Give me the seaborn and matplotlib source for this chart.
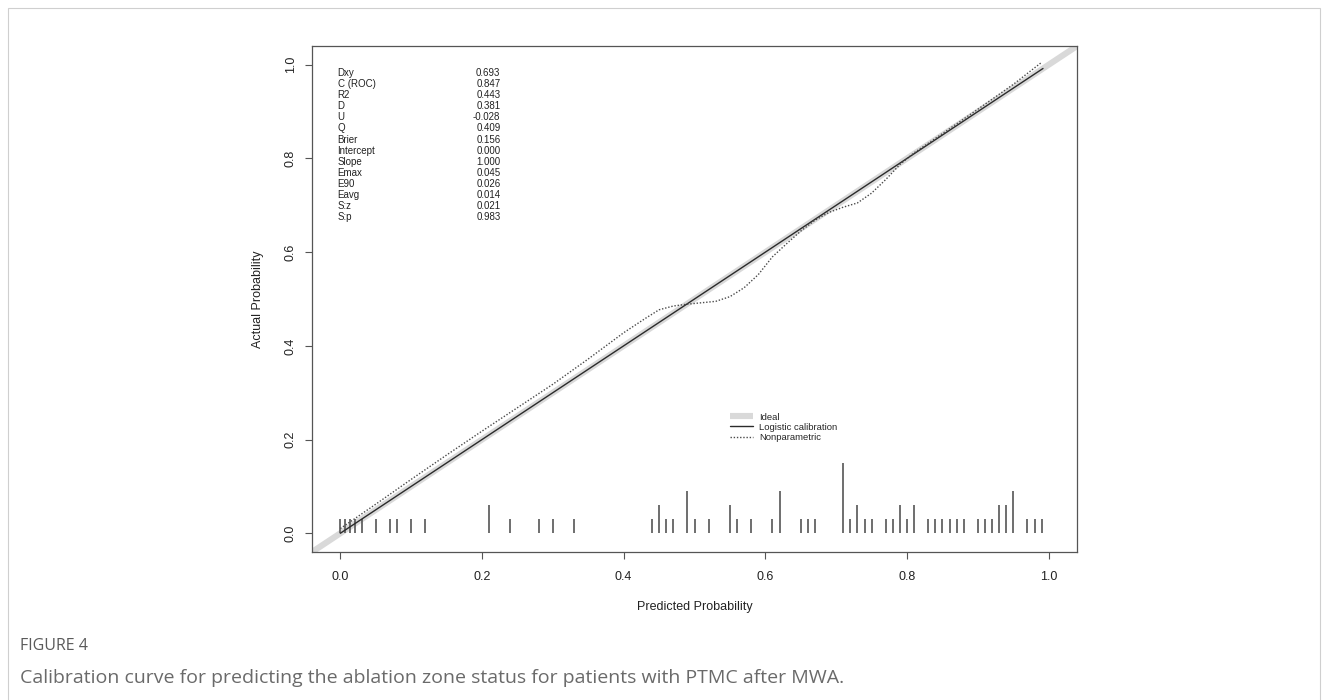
import numpy as np
import pandas as pd
import seaborn as sns
import matplotlib.pyplot as plt
from matplotlib.lines import Line2D
from matplotlib.patches import Rectangle

# ---- calibration statistics -------------------------------------------------
stat_names = ["Dxy", "C (ROC)", "R2", "D", "U", "Q", "Brier", "Intercept",
              "Slope", "Emax", "E90", "Eavg", "S:z", "S:p"]
stat_values = ["0.693", "0.847", "0.443", "0.381", "-0.028", "0.409", "0.156",
               "0.000", "1.000", "0.045", "0.026", "0.014", "0.021", "0.983"]

# ---- logistic calibration line (intercept 0, slope 1) over predicted range ---
logistic_pred = [0.0, 0.992]
logistic_obs = [0.0, 0.992]

# ---- nonparametric (loess) calibration curve --------------------------------
np_pred = [0.00, 0.05, 0.10, 0.15, 0.20, 0.25, 0.30, 0.35, 0.40, 0.43, 0.45,
           0.47, 0.49, 0.51, 0.53, 0.55, 0.57, 0.59, 0.61, 0.63, 0.65, 0.67,
           0.69, 0.71, 0.73, 0.75, 0.77, 0.79, 0.81, 0.85, 0.90, 0.95, 0.99]
np_obs = [0.010, 0.062, 0.115, 0.167, 0.218, 0.268, 0.318, 0.372, 0.428,
          0.458, 0.477, 0.485, 0.489, 0.492, 0.495, 0.505, 0.524, 0.552,
          0.590, 0.618, 0.645, 0.668, 0.685, 0.696, 0.705, 0.726, 0.755,
          0.787, 0.812, 0.853, 0.905, 0.958, 1.005]

# ---- distribution of predicted risks (spike histogram) ----------------------
rug_pred = [0.00, 0.007, 0.014, 0.02, 0.03, 0.05, 0.07, 0.08, 0.10, 0.12,
            0.21, 0.24, 0.28, 0.30, 0.33, 0.44, 0.45, 0.46, 0.47, 0.49, 0.50,
            0.52, 0.55, 0.56, 0.58, 0.61, 0.62, 0.65, 0.66, 0.67, 0.71, 0.72,
            0.73, 0.74, 0.75, 0.77, 0.78, 0.79, 0.80, 0.81, 0.83, 0.84, 0.85,
            0.86, 0.87, 0.88, 0.90, 0.91, 0.92, 0.93, 0.94, 0.95, 0.97, 0.98,
            0.99]
rug_count = [1, 1, 1, 1, 1, 1, 1, 1, 1, 1,
             2, 1, 1, 1, 1, 1, 2, 1, 1, 3, 1,
             1, 2, 1, 1, 1, 3, 1, 1, 1, 5, 1,
             2, 1, 1, 1, 1, 2, 1, 2, 1, 1, 1,
             1, 1, 1, 1, 1, 1, 2, 2, 3, 1, 1,
             1]
spike_unit = 0.03

legend_labels = ["Ideal", "Logistic calibration", "Nonparametric"]
x_ticks = [0.0, 0.2, 0.4, 0.6, 0.8, 1.0]
y_ticks = [0.0, 0.2, 0.4, 0.6, 0.8, 1.0]

# ---- styling ----------------------------------------------------------------
sns.set_style("ticks")
plt.rcParams["font.family"] = ["Liberation Sans", "DejaVu Sans"]
axis_grey = "#555555"

fig = plt.figure(figsize=(13.28, 7.0), dpi=100)
ax = fig.add_axes([312 / 1328, 1 - 552 / 700, 765 / 1328, 506 / 700])

# ideal 45-degree reference
ax.axline((0, 0), slope=1, color="#d9d9d9", lw=4.4, solid_capstyle="butt",
          zorder=1)

logit_df = pd.DataFrame({"pred": logistic_pred, "obs": logistic_obs})
sns.lineplot(data=logit_df, x="pred", y="obs", ax=ax, color="#2b2b2b", lw=1.0,
             sort=False, zorder=3)

np_df = pd.DataFrame({"pred": np_pred, "obs": np_obs})
sns.lineplot(data=np_df, x="pred", y="obs", ax=ax, color="#4a4a4a", lw=1.0,
             linestyle=(0, (1, 1.3)), sort=False, zorder=3)

# spike histogram along the bottom
rug_df = pd.DataFrame({"pred": rug_pred, "n": rug_count})
ax.vlines(rug_df["pred"], 0, rug_df["n"] * spike_unit, color=axis_grey,
          lw=1.2, zorder=2)

ax.set_xlim(-0.04, 1.04)
ax.set_ylim(-0.04, 1.04)
ax.set_xticks(x_ticks)
ax.set_yticks(y_ticks)
ax.set_xticklabels([f"{t:.1f}" for t in x_ticks])
ax.set_yticklabels([f"{t:.1f}" for t in y_ticks], rotation=90, va="center")
ax.tick_params(axis="both", direction="out", length=5, width=0.8,
               color=axis_grey, labelsize=9, labelcolor="#222222")
ax.tick_params(axis="x", pad=8.5)
ax.tick_params(axis="y", pad=6)
for sp in ax.spines.values():
    sp.set_visible(True)
    sp.set_color(axis_grey)
    sp.set_linewidth(0.9)

ax.set_xlabel("Predicted Probability", fontsize=9, color="#222222", va="center")
ax.set_ylabel("Actual Probability", fontsize=9, color="#222222", va="center")
ax.xaxis.set_label_coords(0.5, -55 / 506)
ax.yaxis.set_label_coords(-54 / 765, 0.5)

# statistics block
row_top, row_step = 0.982, 0.0236
for i, (name, val) in enumerate(zip(stat_names, stat_values)):
    yy = row_top - i * row_step
    ax.text(-0.004, yy, name, fontsize=7, ha="left", va="center",
            color="#222222")
    ax.text(0.226, yy, val, fontsize=7, ha="right", va="center",
            color="#222222")

# legend
handles = [
    Line2D([], [], color="#d9d9d9", lw=4.4, solid_capstyle="butt"),
    Line2D([], [], color="#2b2b2b", lw=1.0),
    Line2D([], [], color="#4a4a4a", lw=1.0, linestyle=(0, (1, 1.3))),
]
ax.legend(handles, legend_labels, loc="upper left",
          bbox_to_anchor=(0.5415, 0.283), frameon=False, fontsize=6.8,
          handlelength=2.4, handletextpad=0.7, labelspacing=0.12,
          borderaxespad=0)

# page frame and caption
fig.patches.append(Rectangle((8 / 1328, -0.02), 1312 / 1328, 1 - 8 / 700 + 0.02,
                             transform=fig.transFigure, fill=False,
                             edgecolor="#cfcfcf", lw=0.8))
fig.text(20 / 1328, 1 - 646 / 700, "FIGURE 4", fontsize=11.5,
         family=["Open Sans", "DejaVu Sans"], color="#5a5a5a", va="center",
         ha="left")
fig.text(20 / 1328, 1 - 678 / 700,
         "Calibration curve for predicting the ablation zone status for "
         "patients with PTMC after MWA.",
         fontsize=14, family=["Open Sans", "DejaVu Sans"], color="#6a6a6a",
         va="center", ha="left")

fig.savefig("out.png", dpi=100)
